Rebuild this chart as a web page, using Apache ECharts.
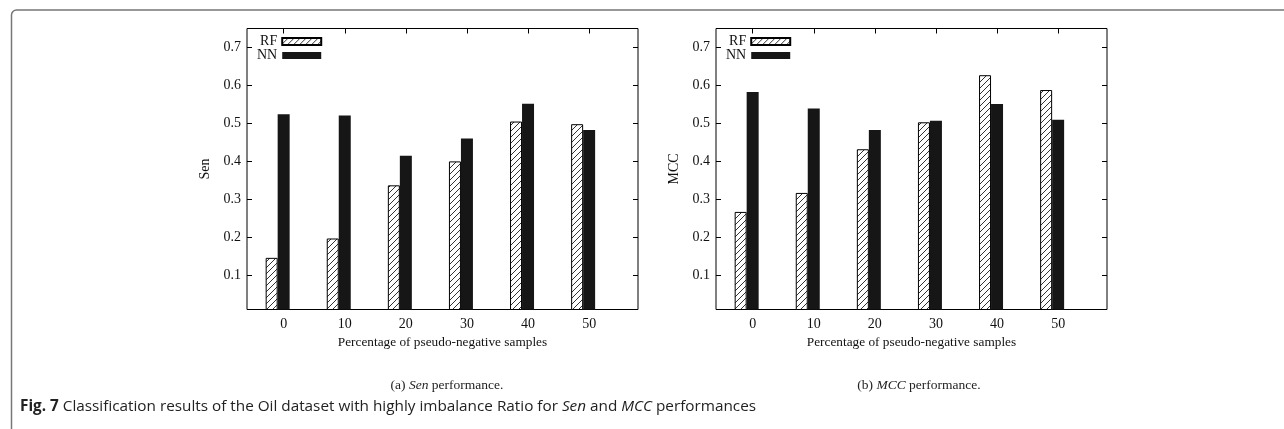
<!DOCTYPE html>
<html>
<head>
<meta charset="utf-8">
<script src="https://cdn.jsdelivr.net/npm/echarts@6/dist/echarts.min.js"></script>
<style>
  html, body { margin: 0; background: #fff; }
  #chart { width: 1284px; height: 429px; }
</style>
</head>
<body>
<div id="chart"></div>
<script>
  // x categories: percentage of pseudo-negative samples
  var categories = ['0', '10', '20', '30', '40', '50'];
  var yTicks = [0.1, 0.2, 0.3, 0.4, 0.5, 0.6, 0.7];

  // (a) Sen
  var senRF = [0.146, 0.197, 0.337, 0.400, 0.505, 0.498];
  var senNN = [0.524, 0.521, 0.415, 0.460, 0.552, 0.483];
  // (b) MCC
  var mccRF = [0.267, 0.317, 0.432, 0.503, 0.627, 0.588];
  var mccNN = [0.583, 0.539, 0.483, 0.507, 0.551, 0.510];

  var font = 'Liberation Serif';

  // diagonal hatch for RF bars
  function hatch() {
    var c = document.createElement('canvas');
    c.width = 6; c.height = 6;
    var ctx = c.getContext('2d');
    ctx.fillStyle = '#fff';
    ctx.fillRect(0, 0, 6, 6);
    ctx.strokeStyle = '#333';
    ctx.lineWidth = 1;
    ctx.beginPath();
    ctx.moveTo(-1, 7); ctx.lineTo(7, -1);
    ctx.moveTo(-1, 1); ctx.lineTo(1, -1);
    ctx.moveTo(5, 7); ctx.lineTo(7, 5);
    ctx.stroke();
    return c;
  }
  var hatchColor = { image: hatch(), repeat: 'repeat' };

  function pairs(arr) {
    return arr.map(function (v, i) { return [i, v]; });
  }

  var panels = [
    { left: 247, name: 'Sen', rf: senRF, nn: senNN },
    { left: 716, name: 'MCC', rf: mccRF, nn: mccNN }
  ];

  var tick = { show: true, inside: true, length: 5, lineStyle: { color: '#000' } };
  var noLine = { show: false, onZero: false };

  var grid = [], xAxis = [], yAxis = [], series = [], legend = [];
  panels.forEach(function (p, k) {
    grid.push({
      left: p.left, top: 28.5, width: 391, height: 281,
      show: true, borderColor: '#000', borderWidth: 1, backgroundColor: 'transparent'
    });
    // bottom axis with labels, top axis mirrored ticks
    xAxis.push({
      type: 'value', gridIndex: k, min: -0.6, max: 5.8,
      name: 'Percentage of pseudo-negative samples',
      nameLocation: 'middle', nameGap: 27,
      nameTextStyle: { fontFamily: font, fontSize: 13.3, color: '#111' },
      axisLine: noLine, splitLine: { show: false },
      axisTick: Object.assign({ customValues: [0, 1, 2, 3, 4, 5] }, tick),
      axisLabel: {
        customValues: [0, 1, 2, 3, 4, 5], margin: 8,
        fontFamily: font, fontSize: 14, color: '#111',
        formatter: function (v) { return categories[Math.round(v)]; }
      }
    });
    xAxis.push({
      type: 'value', gridIndex: k, position: 'top', min: -0.6, max: 5.8,
      axisLine: noLine, splitLine: { show: false }, axisLabel: { show: false },
      axisTick: Object.assign({ customValues: [0, 1, 2, 3, 4, 5] }, tick)
    });
    yAxis.push({
      type: 'value', gridIndex: k, position: 'left', min: 0.01, max: 0.75,
      name: p.name, nameLocation: 'middle', nameGap: 35,
      nameTextStyle: { fontFamily: font, fontSize: 14, color: '#111' },
      axisLine: noLine, splitLine: { show: false },
      axisTick: Object.assign({ customValues: yTicks }, tick),
      axisLabel: {
        customValues: yTicks, margin: 6,
        fontFamily: font, fontSize: 14, color: '#111',
        formatter: function (v) { return v.toFixed(1); }
      }
    });
    yAxis.push({
      type: 'value', gridIndex: k, position: 'right', min: 0.01, max: 0.75,
      axisLine: noLine, splitLine: { show: false }, axisLabel: { show: false },
      axisTick: Object.assign({ customValues: yTicks }, tick)
    });

    series.push({
      name: 'RF', type: 'bar', xAxisIndex: k * 2, yAxisIndex: k * 2,
      barWidth: 12, barGap: '0%', data: pairs(p.rf),
      itemStyle: { color: hatchColor, borderColor: '#000', borderWidth: 1 }
    });
    series.push({
      name: 'NN', type: 'bar', xAxisIndex: k * 2, yAxisIndex: k * 2,
      barWidth: 12, barGap: '0%', data: pairs(p.nn),
      itemStyle: { color: '#161616' }
    });
    // empty slot so the pair sits left of the tick, as in the source plot
    series.push({
      name: 'gap', type: 'bar', xAxisIndex: k * 2, yAxisIndex: k * 2,
      barWidth: 12, barGap: '0%',
      data: categories.map(function (c, i) { return [i, '-']; })
    });

    legend.push({
      data: ['RF', 'NN'], orient: 'vertical', align: 'right', icon: 'rect',
      left: p.left + 5, top: 29.5, itemWidth: 39, itemHeight: 7, itemGap: 0,
      selectedMode: false,
      textStyle: { fontFamily: font, fontSize: 14, color: '#111', width: 22, padding: 0 }
    });
  });

  var capStyle = {
    fontFamily: font, fontSize: 13.5, fontWeight: 'normal', color: '#222',
    rich: { i: { fontFamily: font, fontSize: 13.5, fontStyle: 'italic', color: '#222' } }
  };

  var chart = echarts.init(document.getElementById('chart'));
  chart.setOption({
    animation: false,
    backgroundColor: '#fff',
    title: [
      { text: '(a) {i|Sen} performance.', left: 442, top: 373, textAlign: 'center', textStyle: capStyle },
      { text: '(b) {i|MCC} performance.', left: 914, top: 373, textAlign: 'center', textStyle: capStyle },
      {
        text: '{b|Fig. 7} Classification results of the Oil dataset with highly imbalance Ratio for {i|Sen} and {i|MCC} performances',
        left: 15, top: 394,
        textStyle: {
          fontFamily: 'Open Sans', fontSize: 15.3, fontWeight: 'normal', color: '#222',
          rich: {
            b: { fontFamily: 'Open Sans', fontSize: 15.3, fontWeight: 'bold', color: '#222' },
            i: { fontFamily: 'Open Sans', fontSize: 15.3, fontStyle: 'italic', color: '#222' }
          }
        }
      }
    ],
    graphic: [{
      type: 'rect', silent: true,
      shape: { x: 11.5, y: 10, width: 1300, height: 440, r: 5 },
      style: { fill: 'none', stroke: '#777', lineWidth: 1.5 }
    }],
    legend: legend,
    grid: grid,
    xAxis: xAxis,
    yAxis: yAxis,
    series: series
  });
</script>
</body>
</html>
